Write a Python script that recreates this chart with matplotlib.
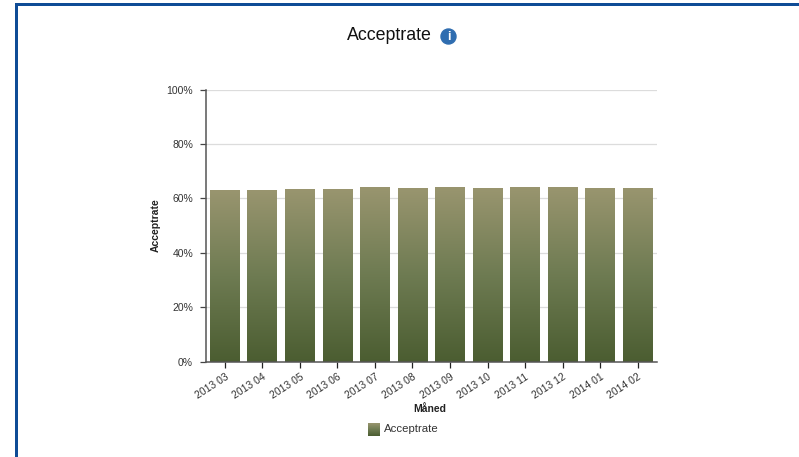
"""Acceptrate per month, gradient bars as in the report export."""

import numpy as np
import matplotlib
matplotlib.use("Agg")
import matplotlib.pyplot as plt
from matplotlib.colors import LinearSegmentedColormap
from matplotlib.patches import Circle, Rectangle
from matplotlib.transforms import IdentityTransform

months = ["2013 03", "2013 04", "2013 05", "2013 06", "2013 07", "2013 08",
          "2013 09", "2013 10", "2013 11", "2013 12", "2014 01", "2014 02"]
acceptrate = [63.1, 63.1, 63.3, 63.5, 64.0, 63.8, 64.0, 63.8, 64.0, 64.0, 63.8, 63.8]
yticks = [0, 20, 40, 60, 80, 100]

W, H = 799, 457
TOP_COLOR = "#99956f"
BOTTOM_COLOR = "#4b5d31"
BORDER = "#0f4c96"

plt.rcParams["font.family"] = ["Liberation Sans", "DejaVu Sans"]

fig = plt.figure(figsize=(W / 100, H / 100), dpi=100, facecolor="white")


def px_axes(x0, y0, x1, y1):
    """Axes from pixel box, y measured from the top of the image."""
    return fig.add_axes([x0 / W, 1 - y1 / H, (x1 - x0) / W, (y1 - y0) / H])


grad = LinearSegmentedColormap.from_list("olive", [BOTTOM_COLOR, "#6e7b52", TOP_COLOR])
ramp = np.linspace(0, 1, 256)[:, None]

ax = px_axes(206, 89.5, 656.5, 361.5)

for y in yticks[1:]:
    ax.axhline(y, color="#dcdcdc", lw=0.9, zorder=1)

bars = ax.bar(range(len(months)), acceptrate, width=0.79, color="none",
              edgecolor="none", zorder=2)
for bar in bars:
    x0, h, w = bar.get_x(), bar.get_height(), bar.get_width()
    ax.imshow(ramp, cmap=grad, origin="lower", aspect="auto", interpolation="bilinear",
              extent=(x0, x0 + w, 0, h), zorder=2)
ax.set_xlim(-0.5, len(months) - 0.5)
ax.set_ylim(0, 100)

for side in ("top", "right"):
    ax.spines[side].set_visible(False)
for side in ("left", "bottom"):
    ax.spines[side].set_color("#555555")
    ax.spines[side].set_linewidth(1.1)

ax.set_yticks(yticks)
ax.set_yticklabels([f"{y}%" for y in yticks], fontsize=7.5, color="#333333")
ax.tick_params(axis="y", length=4.3, width=0.9, color="#444444", pad=5)
ax.set_xticks(range(len(months)))
ax.set_xticklabels(months, fontsize=7.5, color="#333333", rotation=33,
                   ha="right", rotation_mode="anchor")
ax.tick_params(axis="x", length=4.3, width=0.9, color="#222222", pad=3)

ax.set_ylabel("Acceptrate", fontsize=7.5, fontweight="bold", color="#222222")
ax.yaxis.set_label_coords((161 - 206) / 450.5, 0.5)
fig.text(430 / W, 1 - 409 / H, "Måned", fontsize=7.5, fontweight="bold",
         color="#222222", ha="center", va="center")

fig.text(389 / W, 1 - 36 / H, "Acceptrate", fontsize=12.8, color="#111111",
         ha="center", va="center")
fig.add_artist(Circle((448.5, H - 36.5), 7.5, color="#2f6db0",
                      transform=IdentityTransform(), zorder=3))
fig.text(448.5 / W, 1 - 36.5 / H, "i", fontsize=9, fontweight="bold", color="white",
         ha="center", va="center", zorder=4)

# legend swatch
lax = px_axes(368, 423, 380, 435.5)
lax.imshow(ramp, cmap=grad, origin="lower", aspect="auto")
lax.axis("off")
fig.text(384 / W, 1 - 428.5 / H, "Acceptrate", fontsize=8.2, color="#333333",
         ha="left", va="center")

# page border: blue on top and left only, inset from the image corner
fig.add_artist(Rectangle((15 / W, 1 - 6 / H), 1 - 15 / W, 2.5 / H,
                         transform=fig.transFigure, color=BORDER, lw=0))
fig.add_artist(Rectangle((15 / W, 0), 2.5 / W, 1 - 3.5 / H,
                         transform=fig.transFigure, color=BORDER, lw=0))

fig.savefig("out.png", dpi=100)
